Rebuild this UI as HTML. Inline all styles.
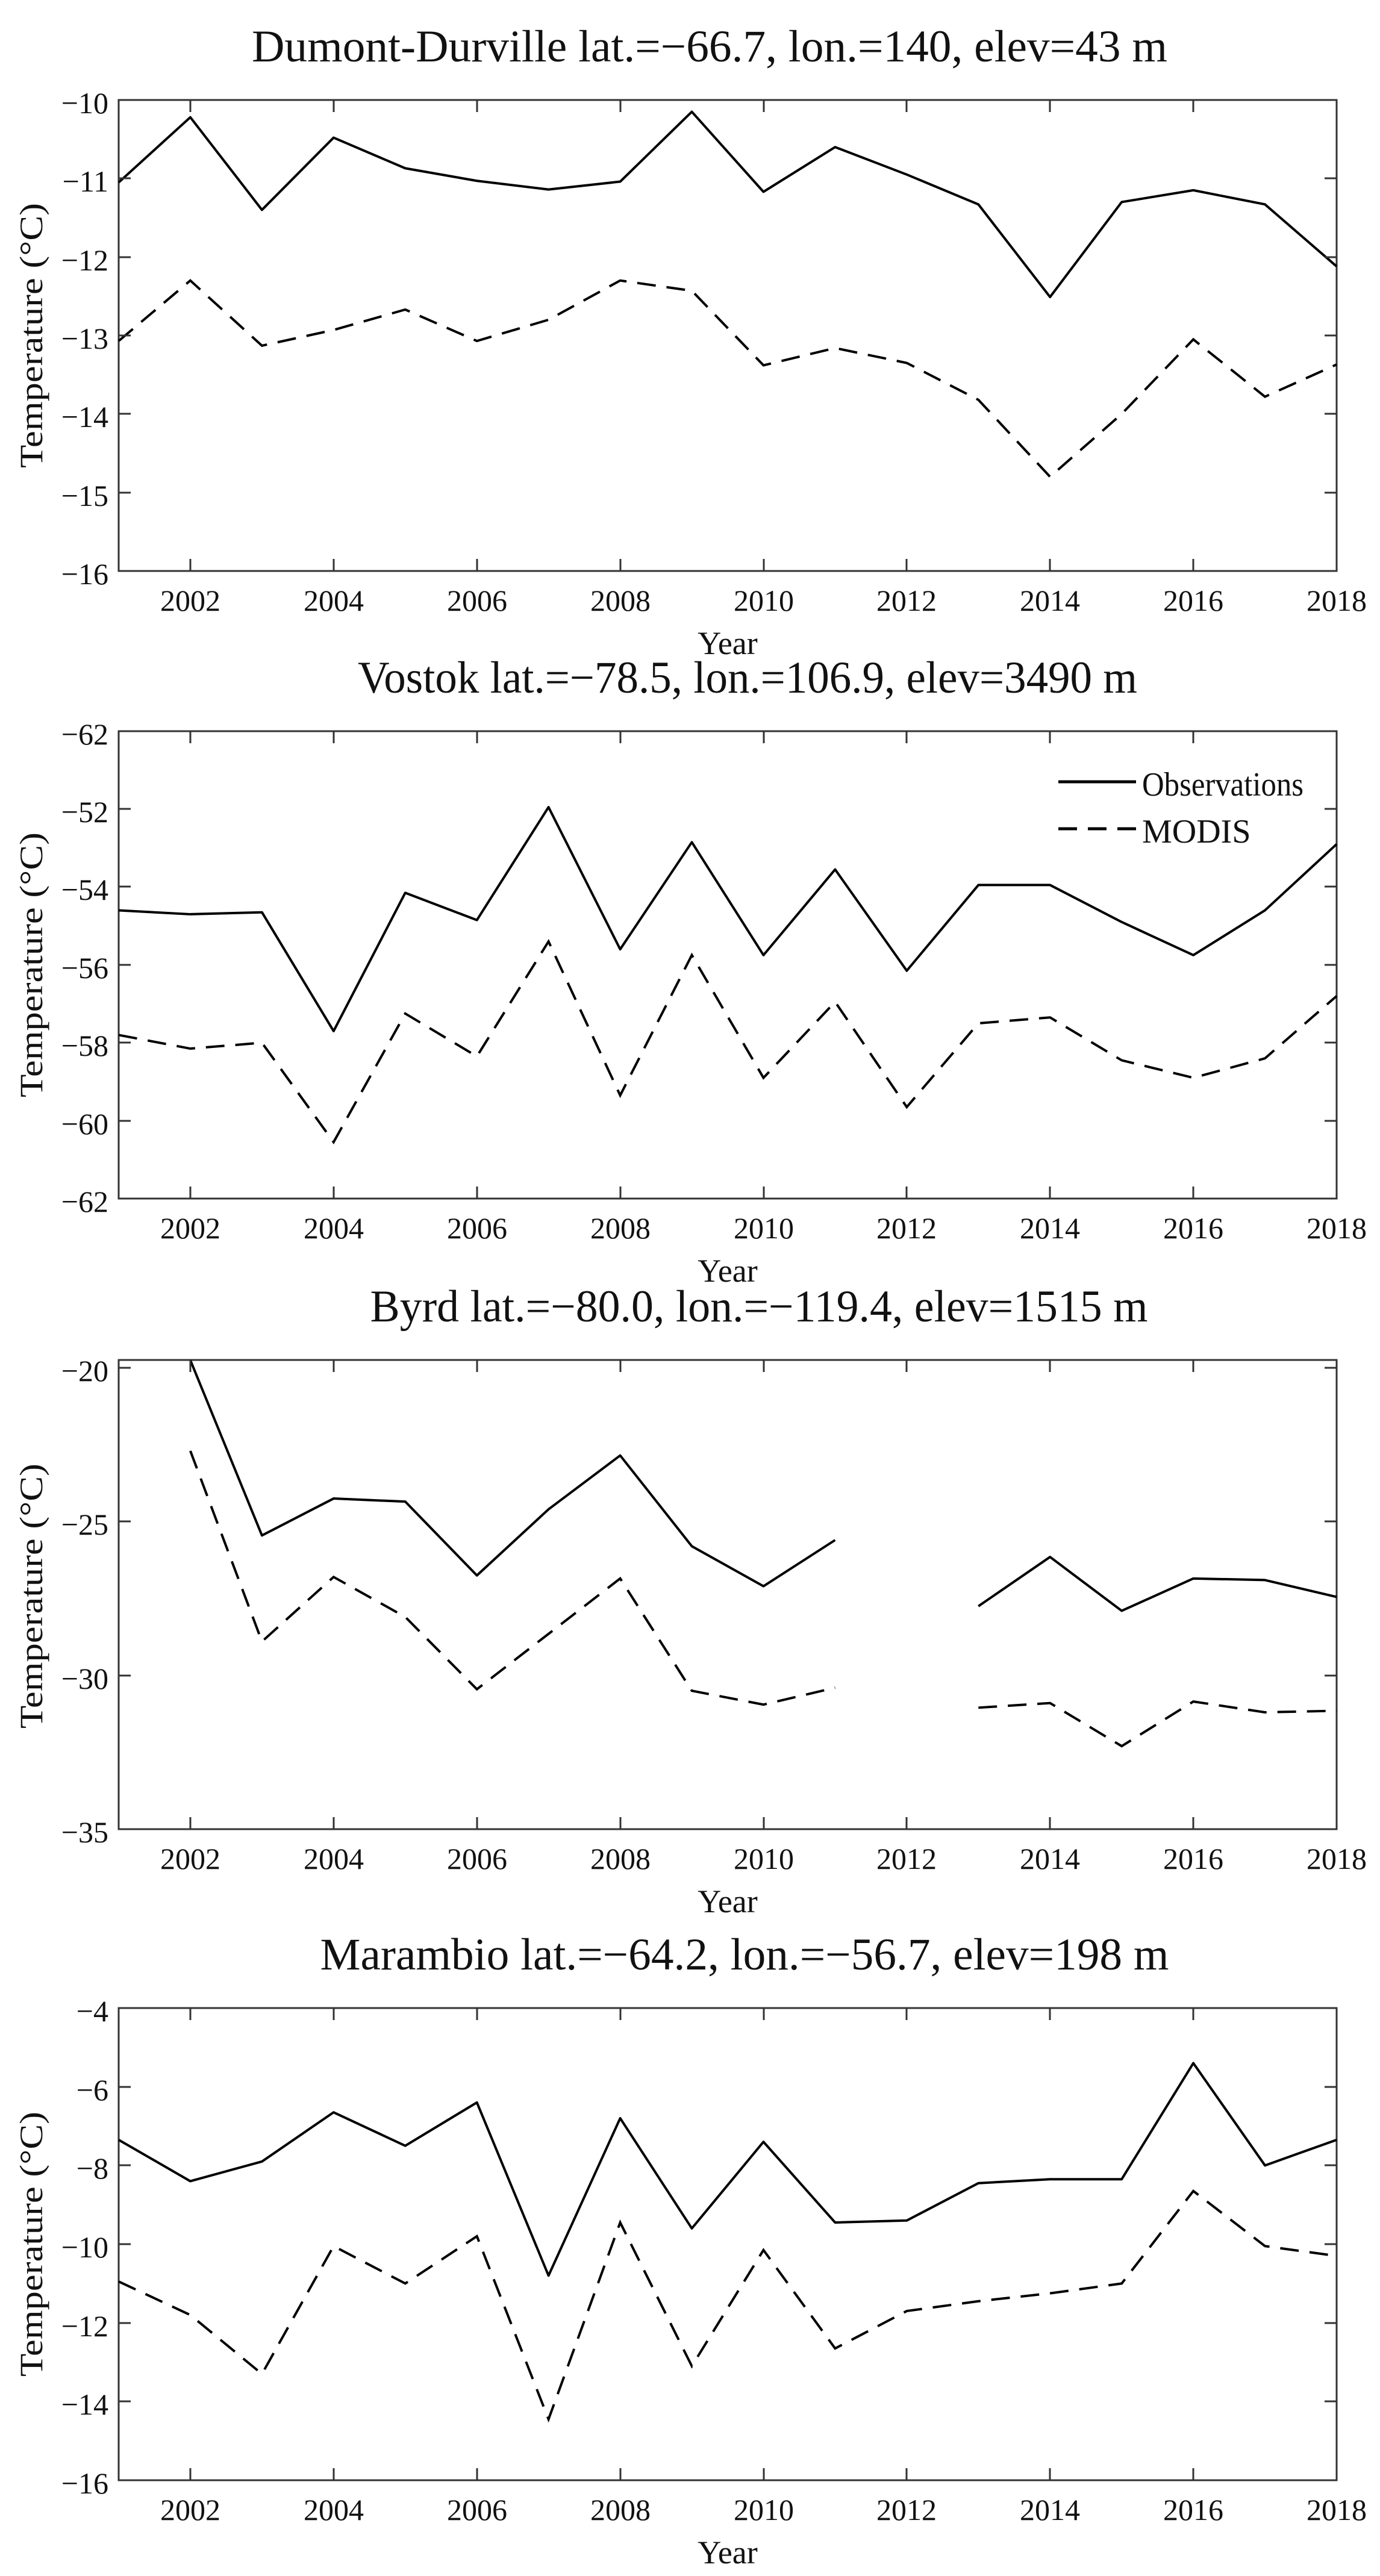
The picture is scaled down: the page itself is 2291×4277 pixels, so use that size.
<!DOCTYPE html>
<html><head><meta charset="utf-8"><style>
html,body{margin:0;padding:0;background:#fff;}
svg{display:block;}
text{font-family:"Liberation Serif",serif;fill:#111;}
.t{font-size:75px;}
.tk{font-size:50px;}
.ax{fill:none;stroke:#333;stroke-width:3;}
.s{fill:none;stroke:#000;stroke-width:4;stroke-linejoin:round;vector-effect:non-scaling-stroke;}
.d{fill:none;stroke:#000;stroke-width:4;stroke-dasharray:31 18;vector-effect:non-scaling-stroke;}
</style></head><body>
<svg width="2291" height="4277" viewBox="0 0 2291 4277" xmlns="http://www.w3.org/2000/svg">
<rect width="2291" height="4277" fill="#fff"/>

<!-- Panel 1 -->
<text class="t" x="1178" y="102" text-anchor="middle" textLength="1520" lengthAdjust="spacingAndGlyphs">Dumont-Durville lat.=−66.7, lon.=140, elev=43 m</text>
<rect class="ax" x="197" y="166" width="2022" height="782"/>
<g transform="translate(197,166) scale(118.94,-130.333) translate(-2001,10)">
<polyline class="s" points="2001,-11.05 2002,-10.22 2003,-11.4 2004,-10.48 2005,-10.87 2006,-11.03 2007,-11.14 2008,-11.04 2009,-10.15 2010,-11.17 2011,-10.6 2012,-10.95 2013,-11.33 2014,-12.51 2015,-11.3 2016,-11.15 2017,-11.33 2018,-12.12"/>
<polyline class="d" points="2001,-13.07 2002,-12.3 2003,-13.13 2004,-12.93 2005,-12.67 2006,-13.07 2007,-12.8 2008,-12.3 2009,-12.43 2010,-13.38 2011,-13.16 2012,-13.35 2013,-13.82 2014,-14.8 2015,-14.0 2016,-13.05 2017,-13.78 2018,-13.37"/>
</g>
<path class="ax" d="M316,166v20M554,166v20M792,166v20M1030,166v20M1268,166v20M1505,166v20M1743,166v20M1981,166v20M316,948v-20M554,948v-20M792,948v-20M1030,948v-20M1268,948v-20M1505,948v-20M1743,948v-20M1981,948v-20M197,296h20M197,427h20M197,557h20M197,687h20M197,818h20M2219,296h-20M2219,427h-20M2219,557h-20M2219,687h-20M2219,818h-20"/>
<g class="tk" text-anchor="end"><text x="180" y="188">−10</text><text x="180" y="318">−11</text><text x="180" y="449">−12</text><text x="180" y="579">−13</text><text x="180" y="709">−14</text><text x="180" y="840">−15</text><text x="180" y="970">−16</text></g>
<g class="tk" text-anchor="middle"><text x="316" y="1014">2002</text><text x="554" y="1014">2004</text><text x="792" y="1014">2006</text><text x="1030" y="1014">2008</text><text x="1268" y="1014">2010</text><text x="1505" y="1014">2012</text><text x="1743" y="1014">2014</text><text x="1981" y="1014">2016</text><text x="2219" y="1014">2018</text></g>
<text class="tk" x="1208" y="1086" text-anchor="middle" style="font-size:54px">Year</text>
<text x="0" y="0" transform="translate(70,557) rotate(-90)" text-anchor="middle" style="font-size:54px" textLength="440" lengthAdjust="spacingAndGlyphs">Temperature (°C)</text>

<!-- Panel 2 -->
<text class="t" x="1241" y="1150" text-anchor="middle" textLength="1294" lengthAdjust="spacingAndGlyphs">Vostok lat.=−78.5, lon.=106.9, elev=3490 m</text>
<rect class="ax" x="197" y="1214" width="2022" height="776"/>
<g transform="translate(197,1214) scale(118.94,-64.667) translate(-2001,50)">
<polyline class="s" points="2001,-54.6 2002,-54.7 2003,-54.65 2004,-57.7 2005,-54.15 2006,-54.85 2007,-51.95 2008,-55.6 2009,-52.85 2010,-55.75 2011,-53.55 2012,-56.15 2013,-53.95 2014,-53.95 2015,-54.9 2016,-55.75 2017,-54.6 2018,-52.9"/>
<polyline class="d" points="2001,-57.8 2002,-58.15 2003,-58.0 2004,-60.55 2005,-57.25 2006,-58.35 2007,-55.4 2008,-59.35 2009,-55.75 2010,-58.9 2011,-56.95 2012,-59.65 2013,-57.5 2014,-57.35 2015,-58.45 2016,-58.9 2017,-58.4 2018,-56.8"/>
</g>
<path class="ax" d="M316,1214v20M554,1214v20M792,1214v20M1030,1214v20M1268,1214v20M1505,1214v20M1743,1214v20M1981,1214v20M316,1990v-20M554,1990v-20M792,1990v-20M1030,1990v-20M1268,1990v-20M1505,1990v-20M1743,1990v-20M1981,1990v-20M197,1343h20M197,1472h20M197,1602h20M197,1731h20M197,1861h20M2219,1343h-20M2219,1472h-20M2219,1602h-20M2219,1731h-20M2219,1861h-20"/>
<g class="tk" text-anchor="end"><text x="180" y="1236">−62</text><text x="180" y="1365">−52</text><text x="180" y="1494">−54</text><text x="180" y="1624">−56</text><text x="180" y="1753">−58</text><text x="180" y="1883">−60</text><text x="180" y="2012">−62</text></g>
<g class="tk" text-anchor="middle"><text x="316" y="2056">2002</text><text x="554" y="2056">2004</text><text x="792" y="2056">2006</text><text x="1030" y="2056">2008</text><text x="1268" y="2056">2010</text><text x="1505" y="2056">2012</text><text x="1743" y="2056">2014</text><text x="1981" y="2056">2016</text><text x="2219" y="2056">2018</text></g>
<text class="tk" x="1208" y="2128" text-anchor="middle" style="font-size:54px">Year</text>
<text x="0" y="0" transform="translate(70,1602) rotate(-90)" text-anchor="middle" style="font-size:54px" textLength="440" lengthAdjust="spacingAndGlyphs">Temperature (°C)</text>
<line x1="1757" y1="1298" x2="1886" y2="1298" stroke="#000" stroke-width="5"/>
<line x1="1757" y1="1376" x2="1886" y2="1376" stroke="#000" stroke-width="5" stroke-dasharray="31 18"/>
<text x="1896" y="1321" style="font-size:56px" textLength="268" lengthAdjust="spacingAndGlyphs">Observations</text>
<text x="1896" y="1399" style="font-size:56px">MODIS</text>

<!-- Panel 3 -->
<text class="t" x="1260" y="2194" text-anchor="middle" textLength="1291" lengthAdjust="spacingAndGlyphs">Byrd lat.=−80.0, lon.=−119.4, elev=1515 m</text>
<rect class="ax" x="197" y="2258" width="2022" height="779"/>
<g transform="translate(197,2258) scale(118.94,-51.067) translate(-2001,19.745)">
<polyline class="s" points="2002,-19.75 2003,-25.45 2004,-24.25 2005,-24.35 2006,-26.75 2007,-24.6 2008,-22.85 2009,-25.8 2010,-27.1 2011,-25.6"/>
<polyline class="s" points="2013,-27.75 2014,-26.15 2015,-27.9 2016,-26.85 2017,-26.9 2018,-27.45"/>
<polyline class="d" points="2002,-22.7 2003,-28.9 2004,-26.8 2005,-28.1 2006,-30.45 2007,-28.65 2008,-26.85 2009,-30.5 2010,-30.95 2011,-30.4"/>
<polyline class="d" points="2013,-31.05 2014,-30.9 2015,-32.3 2016,-30.85 2017,-31.2 2018,-31.15"/>
</g>
<path class="ax" d="M316,2258v20M554,2258v20M792,2258v20M1030,2258v20M1268,2258v20M1505,2258v20M1743,2258v20M1981,2258v20M316,3037v-20M554,3037v-20M792,3037v-20M1030,3037v-20M1268,3037v-20M1505,3037v-20M1743,3037v-20M1981,3037v-20M197,2271h20M197,2526h20M197,2782h20M2219,2271h-20M2219,2526h-20M2219,2782h-20"/>
<g class="tk" text-anchor="end"><text x="180" y="2293">−20</text><text x="180" y="2548">−25</text><text x="180" y="2804">−30</text><text x="180" y="3059">−35</text></g>
<g class="tk" text-anchor="middle"><text x="316" y="3103">2002</text><text x="554" y="3103">2004</text><text x="792" y="3103">2006</text><text x="1030" y="3103">2008</text><text x="1268" y="3103">2010</text><text x="1505" y="3103">2012</text><text x="1743" y="3103">2014</text><text x="1981" y="3103">2016</text><text x="2219" y="3103">2018</text></g>
<text class="tk" x="1208" y="3175" text-anchor="middle" style="font-size:54px">Year</text>
<text x="0" y="0" transform="translate(70,2650) rotate(-90)" text-anchor="middle" style="font-size:54px" textLength="440" lengthAdjust="spacingAndGlyphs">Temperature (°C)</text>

<!-- Panel 4 -->
<text class="t" x="1236" y="3270" text-anchor="middle" textLength="1409" lengthAdjust="spacingAndGlyphs">Marambio lat.=−64.2, lon.=−56.7, elev=198 m</text>
<rect class="ax" x="197" y="3334" width="2022" height="784"/>
<g transform="translate(197,3334) scale(118.94,-65.333) translate(-2001,4)">
<polyline class="s" points="2001,-7.35 2002,-8.4 2003,-7.9 2004,-6.65 2005,-7.5 2006,-6.4 2007,-10.8 2008,-6.8 2009,-9.6 2010,-7.4 2011,-9.45 2012,-9.4 2013,-8.45 2014,-8.35 2015,-8.35 2016,-5.4 2017,-8.0 2018,-7.35"/>
<polyline class="d" points="2001,-10.95 2002,-11.8 2003,-13.3 2004,-10.05 2005,-11.0 2006,-9.8 2007,-14.45 2008,-9.45 2009,-13.1 2010,-10.15 2011,-12.65 2012,-11.7 2013,-11.45 2014,-11.25 2015,-11.0 2016,-8.65 2017,-10.05 2018,-10.3"/>
</g>
<path class="ax" d="M316,3334v20M554,3334v20M792,3334v20M1030,3334v20M1268,3334v20M1505,3334v20M1743,3334v20M1981,3334v20M316,4118v-20M554,4118v-20M792,4118v-20M1030,4118v-20M1268,4118v-20M1505,4118v-20M1743,4118v-20M1981,4118v-20M197,3465h20M197,3595h20M197,3726h20M197,3857h20M197,3987h20M2219,3465h-20M2219,3595h-20M2219,3726h-20M2219,3857h-20M2219,3987h-20"/>
<g class="tk" text-anchor="end"><text x="180" y="3356">−4</text><text x="180" y="3487">−6</text><text x="180" y="3617">−8</text><text x="180" y="3748">−10</text><text x="180" y="3879">−12</text><text x="180" y="4009">−14</text><text x="180" y="4140">−16</text></g>
<g class="tk" text-anchor="middle"><text x="316" y="4184">2002</text><text x="554" y="4184">2004</text><text x="792" y="4184">2006</text><text x="1030" y="4184">2008</text><text x="1268" y="4184">2010</text><text x="1505" y="4184">2012</text><text x="1743" y="4184">2014</text><text x="1981" y="4184">2016</text><text x="2219" y="4184">2018</text></g>
<text class="tk" x="1208" y="4256" text-anchor="middle" style="font-size:54px">Year</text>
<text x="0" y="0" transform="translate(70,3726) rotate(-90)" text-anchor="middle" style="font-size:54px" textLength="440" lengthAdjust="spacingAndGlyphs">Temperature (°C)</text>
</svg>
</body></html>
